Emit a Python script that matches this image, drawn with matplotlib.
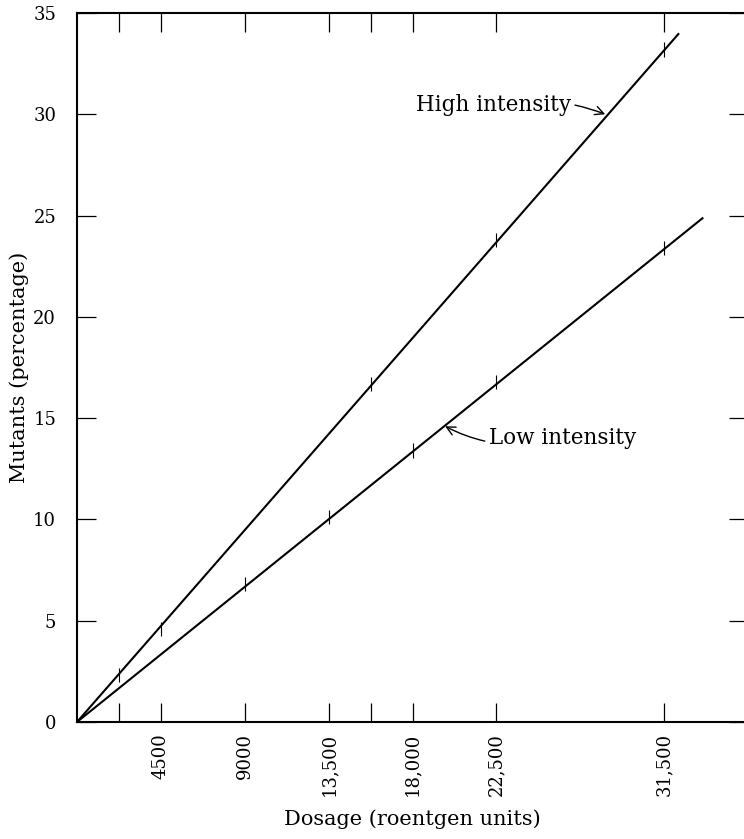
import matplotlib
matplotlib.use("Agg")
import matplotlib.pyplot as plt

# Values
high_dose = [2250, 4500, 15750, 22500, 31500]
high_pct = [2.3, 4.6, 16.7, 23.8, 33.2]
low_dose = [9000, 13500, 18000, 22500, 31500]
low_pct = [6.8, 10.1, 13.4, 16.8, 23.4]

# Drawn straight lines (start and end)
high_line_x = [0, 32300]
high_line_y = [0, 34.0]
low_line_x = [0, 33600]
low_line_y = [0, 24.9]

x_ticks = [2250, 4500, 9000, 13500, 15750, 18000, 22500, 31500]
x_labels = ["", "4500", "9000", "13,500", "", "18,000", "22,500", "31,500"]
y_ticks = [0, 5, 10, 15, 20, 25, 30, 35]

plt.rcParams['font.family'] = ['DejaVu Serif']

fig = plt.figure(figsize=(7.44, 8.39), dpi=100)
ax = fig.add_axes([77 / 744, 117 / 839, 671 / 744, 709 / 839])

ax.plot(high_line_x, high_line_y, color='black', lw=1.5, solid_capstyle='butt')
ax.plot(low_line_x, low_line_y, color='black', lw=1.5, solid_capstyle='butt')
ax.errorbar(high_dose, high_pct, yerr=0.35, fmt='none', ecolor='black', elinewidth=0.8)
ax.errorbar(low_dose, low_pct, yerr=0.35, fmt='none', ecolor='black', elinewidth=0.8)

ax.annotate('High intensity', xy=(28340, 30.0), xytext=(26500, 30.45),
            ha='right', va='center', fontsize=15.5,
            arrowprops=dict(arrowstyle='->', color='black', lw=1.0,
                            shrinkA=1, shrinkB=0, connectionstyle='arc3,rad=-0.15'))
ax.annotate('Low intensity', xy=(19750, 14.6), xytext=(22100, 14.0),
            ha='left', va='center', fontsize=15.5,
            arrowprops=dict(arrowstyle='->', color='black', lw=1.0,
                            shrinkA=1, shrinkB=0, connectionstyle='arc3,rad=-0.2'))

ax.set_xlim(0, 36000)
ax.set_ylim(0, 35)
ax.set_xticks(x_ticks)
ax.set_xticklabels(x_labels, rotation=90, fontsize=13)
ax.set_yticks(y_ticks)
ax.set_yticklabels([str(v) for v in y_ticks], fontsize=13)
ax.tick_params(axis='both', direction='in', length=14, width=0.9,
               top=True, right=True, pad=8)
ax.tick_params(axis='y', pad=15)

for s in ax.spines.values():
    s.set_linewidth(1.5)

ax.set_xlabel('Dosage (roentgen units)', fontsize=15, labelpad=9)
ax.set_ylabel('Mutants (percentage)', fontsize=15, labelpad=3)

fig.savefig('out.png', dpi=100)
